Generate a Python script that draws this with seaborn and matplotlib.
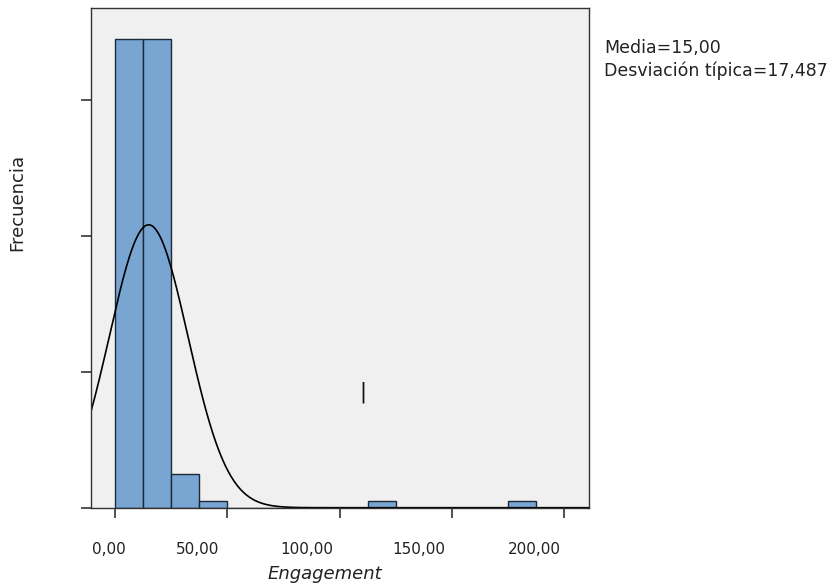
import numpy as np
import matplotlib
matplotlib.use("Agg")
import matplotlib.pyplot as plt
import matplotlib.transforms as mtransforms
import seaborn as sns

# histogram bins (left edges) and counts
bin_starts = [0.0, 12.5, 25.0, 37.5, 112.5, 175.0]
counts = [69, 69, 5, 1, 1, 1]
bin_width = 12.5
media = 15.00
desviacion = 17.487
x_ticks = [0, 50, 100, 150, 200]
x_tick_labels = ["0,00", "50,00", "100,00", "150,00", "200,00"]
y_ticks = [0, 20, 40, 60]

sns.set_style("white")
plt.rcParams["font.family"] = ["DejaVu Sans"]

W, H = 835, 586
fig = plt.figure(figsize=(W / 100, H / 100), dpi=100)
ax = fig.add_axes([90.7 / W, 1 - 507.7 / H, (589 - 90.7) / W, (507.7 - 8.3) / H])
ax.set_facecolor("#f0f0f0")

centers = [s + bin_width / 2 for s in bin_starts]
sns.histplot(x=centers, weights=counts, binwidth=bin_width, binrange=(0, 187.5),
             color="#79a5d2", edgecolor="#1c2a38", linewidth=1.0, alpha=1.0, ax=ax)

# normal curve fitted with the shown mean / sd
n = sum(counts)
xs = np.linspace(-12, 212, 500)
ys = n * bin_width / (desviacion * np.sqrt(2 * np.pi)) * np.exp(-0.5 * ((xs - media) / desviacion) ** 2)
sns.lineplot(x=xs, y=ys, color="black", linewidth=1.2, ax=ax)

ax.set_xlim(-10.8, 211.1)
ax.set_ylim(0, 73.5)
ax.set_xticks(x_ticks)
ax.set_xticklabels([])
ax.set_yticks(y_ticks)
ax.set_yticklabels([])
ax.tick_params(axis="both", bottom=True, left=True, direction="out", length=7,
               width=1.2, color="#333333")
for sp in ax.spines.values():
    sp.set_color("#333333")
    sp.set_linewidth(1.0)
    sp.set_visible(True)

# SPSS puts the tick labels a little to the left of the ticks
shifts = [-6, -30, -33, -33, -30]
for xv, lab, sh in zip(x_ticks, x_tick_labels, shifts):
    tr = mtransforms.blended_transform_factory(ax.transData, ax.transAxes) + \
        mtransforms.ScaledTranslation(sh / 100, 0, fig.dpi_scale_trans)
    ax.text(xv, -0.083, lab, transform=tr, ha="center", va="center", fontsize=11, color="#222222")

ax.set_xlabel("")
ax.set_ylabel("")
fig.text(325 / W, 1 - 574 / H, "Engagement", ha="center", va="center", fontsize=13,
         style="italic", color="#222222")
fig.text(17 / W, 1 - 202 / H, "Frecuencia", ha="center", va="center", fontsize=13,
         rotation=90, color="#222222")

fig.text(604 / W, 1 - 48 / H, "Media=15,00", ha="left", va="center", fontsize=12.5, color="#222222")
fig.text(604 / W, 1 - 71 / H, "Desviación típica=17,487", ha="left", va="center", fontsize=12.5,
         color="#222222")

# stray cursor mark in the original chart
fig.text(363 / W, 1 - 392 / H, "|", ha="center", va="center", fontsize=15, color="#111111")

fig.savefig("out.png", dpi=100)
